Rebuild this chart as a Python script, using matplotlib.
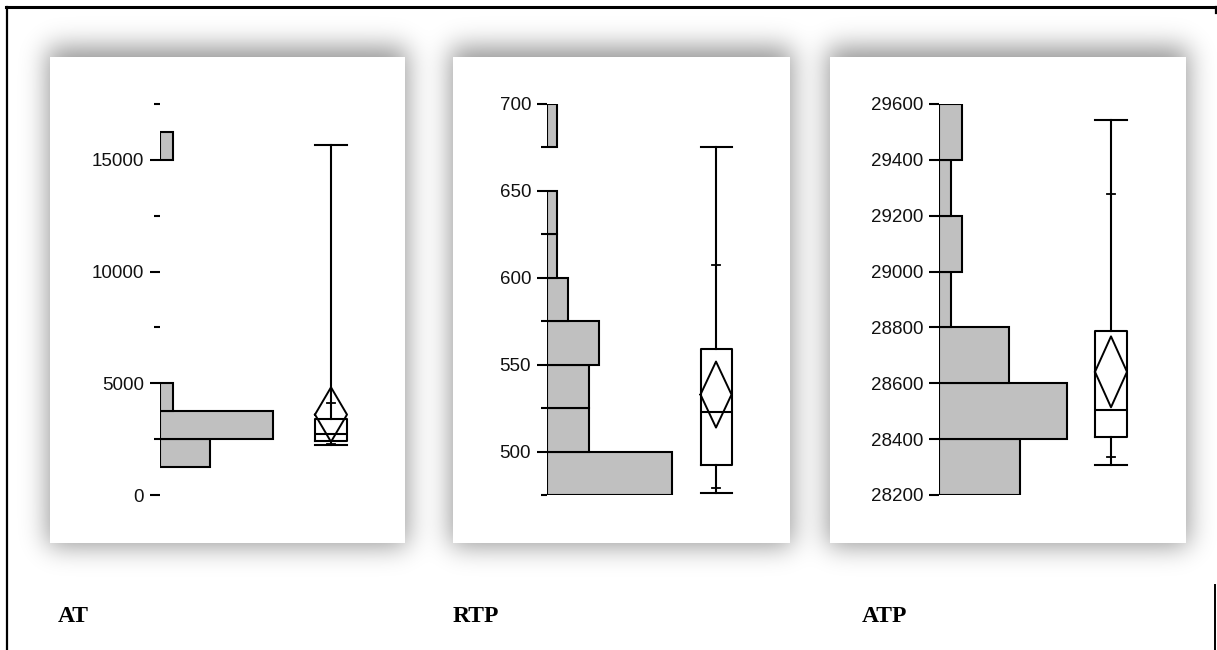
import math
import numpy as np
import matplotlib
matplotlib.use("Agg")
import matplotlib.pyplot as plt
from matplotlib.patches import Rectangle

# histogram bins (edges) and counts per variable
at_edges = [0, 1250, 2500, 3750, 5000, 6250, 7500, 8750, 10000,
            11250, 12500, 13750, 15000, 16250, 17500]
at_counts = [0, 8, 18, 2, 0, 0, 0, 0, 0, 0, 0, 0, 2, 0]

rtp_edges = [475, 500, 525, 550, 575, 600, 625, 650, 675, 700]
rtp_counts = [12, 4, 4, 5, 2, 1, 1, 0, 1]

atp_edges = [28200, 28400, 28600, 28800, 29000, 29200, 29400, 29600]
atp_counts = [7, 11, 6, 1, 2, 1, 2]

# box plot summaries: whisker ends, quartiles, median, 10/90 pct, mean and CI half-width
at_box = dict(whislo=2250, q1=2430, med=2750, q3=3380, whishi=15680,
              p10=2290, p90=4100, mean=3600, ci=1220)
rtp_box = dict(whislo=476, q1=492.5, med=523, q3=559, whishi=675,
               p10=479, p90=607.5, mean=532.8, ci=19)
atp_box = dict(whislo=28308, q1=28409, med=28505, q3=28788, whishi=29543,
               p10=28337, p90=29278, mean=28641, ci=127)

labels = ["AT", "RTP", "ATP"]

W, H = 1217, 650
fig = plt.figure(figsize=(W / 100, H / 100), dpi=100)

# background layer in pixel coordinates: frame, card shadows, cards, captions
bg = fig.add_axes([0, 0, 1, 1])
bg.set_xlim(0, W)
bg.set_ylim(H, 0)
bg.axis("off")

cards = [(50, 57, 405, 543), (453, 57, 790, 543), (830, 57, 1186, 543)]

erf = np.vectorize(math.erf)


def soft_step(t, a, b, s):
    return 0.5 * (erf((t - a) / (s * math.sqrt(2))) - erf((t - b) / (s * math.sqrt(2))))


xs = np.arange(W) + 0.5
ys = np.arange(H) + 0.5
light = np.ones((H, W))
for x0, y0, x1, y1 in cards:
    fx = soft_step(xs, x0 - 2, x1 + 2, 13)
    fy = soft_step(ys, y0 - 10, y1 + 3, 13)
    light *= 1 - 0.42 * np.outer(fy, fx)
shadow = np.zeros((H, W, 4))
shadow[..., 3] = 1 - light
bg.imshow(shadow, extent=(0, W, H, 0), interpolation="bilinear", zorder=0)

for x0, y0, x1, y1 in cards:
    bg.add_patch(Rectangle((x0, y0), x1 - x0, y1 - y0, facecolor="white",
                           edgecolor="none", zorder=1))

# page frame
bg.plot([6, 1216], [7, 7], color="black", lw=2.2, zorder=2)
bg.plot([7, 7], [7, H], color="black", lw=1.6, zorder=2)
bg.plot([1216, 1216], [7, 13], color="black", lw=1.6, zorder=2)
bg.plot([1215, 1215], [585, H], color="black", lw=1.4, zorder=2)

for x, lab in zip([58, 453, 862], labels):
    bg.text(x, 617, lab, fontfamily="Liberation Serif", fontweight="bold",
            fontsize=17, va="center", ha="left", zorder=2)


def draw_panel(hist_left, right, px_per_count, box_center, box_w,
               edges, counts, box, ylim, major, minor):
    ax = fig.add_axes([hist_left / W, (H - 495) / H,
                       (right - hist_left) / W, (495 - 104) / H])
    ax.patch.set_alpha(0)
    ax.set_xlim(0, (right - hist_left) / px_per_count)
    ax.set_ylim(*ylim)

    edges = np.asarray(edges, dtype=float)
    counts = np.asarray(counts, dtype=float)
    keep = counts > 0
    ax.barh(edges[:-1][keep], counts[keep], height=np.diff(edges)[keep],
            align="edge", color="#c0c0c0", edgecolor="black", lw=1.5)

    xc = (box_center - hist_left) / px_per_count
    bw = box_w / px_per_count
    stats = [dict(med=box["med"], q1=box["q1"], q3=box["q3"],
                  whislo=box["whislo"], whishi=box["whishi"], fliers=[])]
    line = dict(color="black", lw=1.5)
    ax.bxp(stats, positions=[xc], widths=bw, capwidths=bw, showfliers=False,
           boxprops=line, whiskerprops=line, capprops=line, medianprops=line,
           manage_ticks=False)

    # mean diamond
    m, c, hw = box["mean"], box["ci"], bw / 2
    ax.plot([xc - hw, xc, xc + hw, xc, xc - hw], [m, m + c, m, m - c, m],
            color="black", lw=1.4)

    # 10th / 90th percentile marks on the whiskers
    tw = 4 / px_per_count
    for p in (box["p10"], box["p90"]):
        ax.plot([xc - tw, xc + tw], [p, p], color="black", lw=1.3)

    for s in ax.spines.values():
        s.set_visible(False)
    ax.set_yticks(major)
    ax.set_yticks(minor, minor=True)
    ax.tick_params(axis="x", bottom=False, labelbottom=False)
    ax.tick_params(axis="y", which="major", length=7.5, width=1.5, pad=4,
                   labelsize=13.5, labelcolor="#111111")
    ax.tick_params(axis="y", which="minor", length=4, width=1.5)
    for t in ax.get_yticklabels():
        t.set_fontfamily("Liberation Sans")
    return ax


draw_panel(160, 390, 6.3, 331, 32, at_edges, at_counts, at_box,
           (0, 17500), [0, 5000, 10000, 15000], [2500, 7500, 12500, 17500])
draw_panel(547, 780, 10.4, 716, 31, rtp_edges, rtp_counts, rtp_box,
           (475, 700), [500, 550, 600, 650, 700], [475, 525, 575, 625, 675])
draw_panel(939, 1170, 11.6, 1111, 32, atp_edges, atp_counts, atp_box,
           (28200, 29600), [28200, 28400, 28600, 28800, 29000, 29200, 29400, 29600], [])

fig.savefig("out.png", dpi=100)
